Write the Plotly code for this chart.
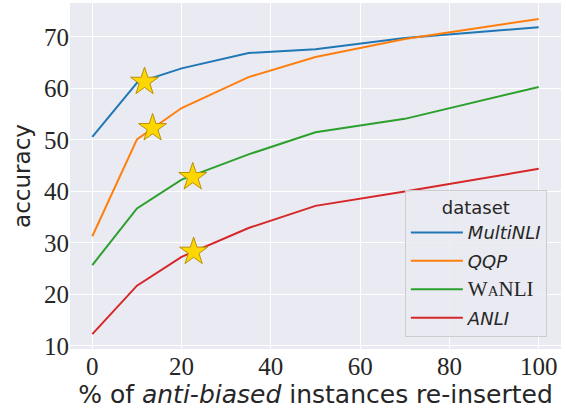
import plotly.graph_objects as go

x_pct = [0, 10, 20, 35, 50, 70, 100]
multinli = [50.6, 61.1, 63.9, 66.9, 67.6, 69.8, 71.9]
qqp = [31.3, 50.1, 56.2, 62.2, 66.1, 69.6, 73.5]
wanli = [25.7, 36.7, 42.3, 47.2, 51.5, 54.1, 60.3]
anli = [12.3, 21.7, 27.3, 32.9, 37.2, 40.0, 44.4]

star_x = [11.7, 13.5, 22.5, 22.7]
star_y = [61.3, 52.3, 42.8, 28.3]

SERIF = "Liberation Serif, serif"
names = ["<i>MultiNLI</i>", "<i>QQP</i>",
         "<span style='font-family:Liberation Serif;font-size:21px'>W</span>"
         "<span style='font-family:Liberation Serif;font-size:15px'>A</span>"
         "<span style='font-family:Liberation Serif;font-size:21px'>NLI</span>",
         "<i>ANLI</i>"]
colors = ["#1f77b4", "#ff7f0e", "#2ca02c", "#d62728"]
series = [multinli, qqp, wanli, anli]

fig = go.Figure()
for i, (name, col, ys) in enumerate(zip(names, colors, series)):
    fig.add_trace(go.Scatter(x=x_pct, y=ys, mode="lines", name=name,
                             legendgroup=f"g{i}",
                             line=dict(color=col, width=2)))

fig.add_trace(go.Scatter(x=star_x, y=star_y, mode="markers", showlegend=False,
                         marker=dict(symbol="star", size=21, color="#FFD700",
                                     line=dict(color="#B8900A", width=1))))

tickfont = dict(family=SERIF, size=25, color="#262626")
fig.update_layout(
    width=566, height=410,
    margin=dict(l=70, r=5, t=3, b=61),
    paper_bgcolor="white", plot_bgcolor="#EAEAF2",
    xaxis=dict(range=[-5, 105], tickvals=[0, 20, 40, 60, 80, 100],
               gridcolor="white", gridwidth=1.2, zeroline=False, showline=False,
               ticks="", tickfont=tickfont, automargin=False,
               title=dict(text="% of <i>anti-biased</i> instances re-inserted",
                          font=dict(family="DejaVu Sans", size=25, color="#262626"),
                          standoff=5)),
    yaxis=dict(range=[9.4, 76.6], tickvals=[10, 20, 30, 40, 50, 60, 70],
               gridcolor="white", gridwidth=1.2, zeroline=False, showline=False,
               ticks="", tickfont=tickfont, automargin=False,
               title=dict(text="accuracy",
                          font=dict(family="DejaVu Sans", size=23, color="#262626"),
                          standoff=6)),
    legend=dict(x=0.682, y=0.46, xanchor="left", yanchor="top",
                bgcolor="rgba(234,234,242,0.85)", bordercolor="#CCCCCC", borderwidth=1,
                font=dict(family="DejaVu Sans", size=18, color="#262626"),
                title=dict(text="dataset", side="top center",
                           font=dict(family="DejaVu Sans", size=18, color="#262626")),
                itemwidth=52, tracegroupgap=2),
)

fig.write_html("out.html", config={"displayModeBar": False},
               post_script="document.body.style.margin='0';document.body.style.padding='0';")
